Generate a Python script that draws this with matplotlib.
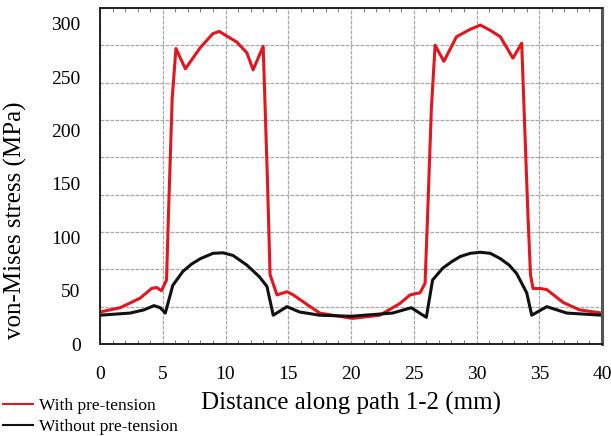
import numpy as np
import matplotlib
matplotlib.use('Agg')
import matplotlib.pyplot as plt
from matplotlib.ticker import MultipleLocator

# Values
dist_red = [0, 1.6, 3.2, 4.1, 4.5, 4.9, 5.3, 5.45, 5.75, 6.05, 6.8, 8.0, 9.0, 9.5, 10.9,
            11.7, 12.2, 13.0, 13.35, 13.55, 14.1, 14.9, 15.4, 16.5, 17.5, 20.1, 22.3,
            23.9, 24.7, 25.5, 25.9, 26.1, 26.4, 26.7, 27.4, 28.4, 29.5, 30.3, 31.1,
            31.9, 32.9, 33.6, 33.85, 34.1, 34.3, 34.5, 35.1, 35.6, 36.9, 38.2, 40]
stress_red = [30, 34, 43, 52, 53, 50, 60, 120, 230, 277, 258, 278, 291, 293, 283,
              273, 257, 279, 150, 65, 46, 49, 46, 37, 29, 24, 27,
              38, 46, 48, 57, 120, 220, 280, 265, 288, 295, 299, 294,
              288, 268, 282, 200, 120, 65, 52, 52, 51, 39, 32, 29]

dist_black = [0, 2.4, 3.5, 4.3, 4.8, 5.2, 5.5, 5.8, 6.6, 7.3, 8.0, 9.0, 9.8, 10.6, 11.7,
              12.7, 13.3, 13.8, 14.9, 15.9, 17.5, 20, 23.3, 24.8, 26.0, 26.5, 27.3,
              28.0, 28.7, 29.5, 30.3, 31.1, 31.9, 32.6, 33.2, 34.0, 34.4, 35.6, 37.2, 40]
stress_black = [27, 29, 32, 36, 34, 29, 42, 55, 68, 75, 80, 85, 85.5, 83, 74,
                63, 54, 27, 35, 30, 27, 26, 29, 34, 25, 60, 71,
                77, 82, 85, 86, 85, 80, 74, 66, 48, 27, 35, 29, 27]

x_ticks = [0, 5, 10, 15, 20, 25, 30, 35, 40]
y_ticks = [0, 50, 100, 150, 200, 250, 300]

plt.rcParams['font.family'] = ['Liberation Serif', 'DejaVu Serif']

fig = plt.figure(figsize=(6.11, 4.36), dpi=100)
ax = fig.add_axes([0.1637, 0.211, 0.8216, 0.7707])

ax.plot(dist_red, stress_red, color='#e3161e', lw=2.2, label='With pre-tension')
ax.plot(dist_black, stress_black, color='#111111', lw=2.2, label='Without pre-tension')

ax.set_xlim(0, 40)
ax.set_ylim(0, 315)
ax.set_xticks(x_ticks)
ax.set_yticks(y_ticks)
ax.tick_params(axis='both', which='major', labelsize=14, length=0)
ax.tick_params(axis='y', pad=14)
ax.tick_params(axis='x', pad=16)

# grid in the reference does not line up with the y labels
ax.yaxis.set_minor_locator(MultipleLocator(35))
ax.xaxis.set_minor_locator(MultipleLocator(1))
ax.tick_params(axis='y', which='minor', length=0)
ax.tick_params(axis='x', which='minor', direction='in', length=3, width=0.6,
               color='#666666', top=True)
ax.grid(True, axis='y', which='minor', color='#a8a8a8', lw=0.9, ls=(0, (3, 1)))
ax.grid(True, axis='x', which='major', color='#a8a8a8', lw=0.9, ls=(0, (3, 1)))

for s in ax.spines.values():
    s.set_linewidth(1.4)
    s.set_color('#222222')
ax.spines['right'].set_linewidth(2.2)
ax.spines['right'].set_color('#555555')

ax.set_xlabel('Distance along path 1-2 (mm)', fontsize=18, labelpad=6)
ax.set_ylabel('von-Mises stress (MPa)', fontsize=18)
ax.yaxis.set_label_coords(-0.145, 0.369)

fig.legend(loc='upper left', bbox_to_anchor=(0.005, 0.0871), frameon=False,
           fontsize=12.5, handlelength=1.75, handletextpad=0.3, labelspacing=0.27,
           borderpad=0, borderaxespad=0)
for ln in fig.legends[0].get_lines():
    ln.set_linewidth(1.5)

fig.savefig('out.png', dpi=100)
